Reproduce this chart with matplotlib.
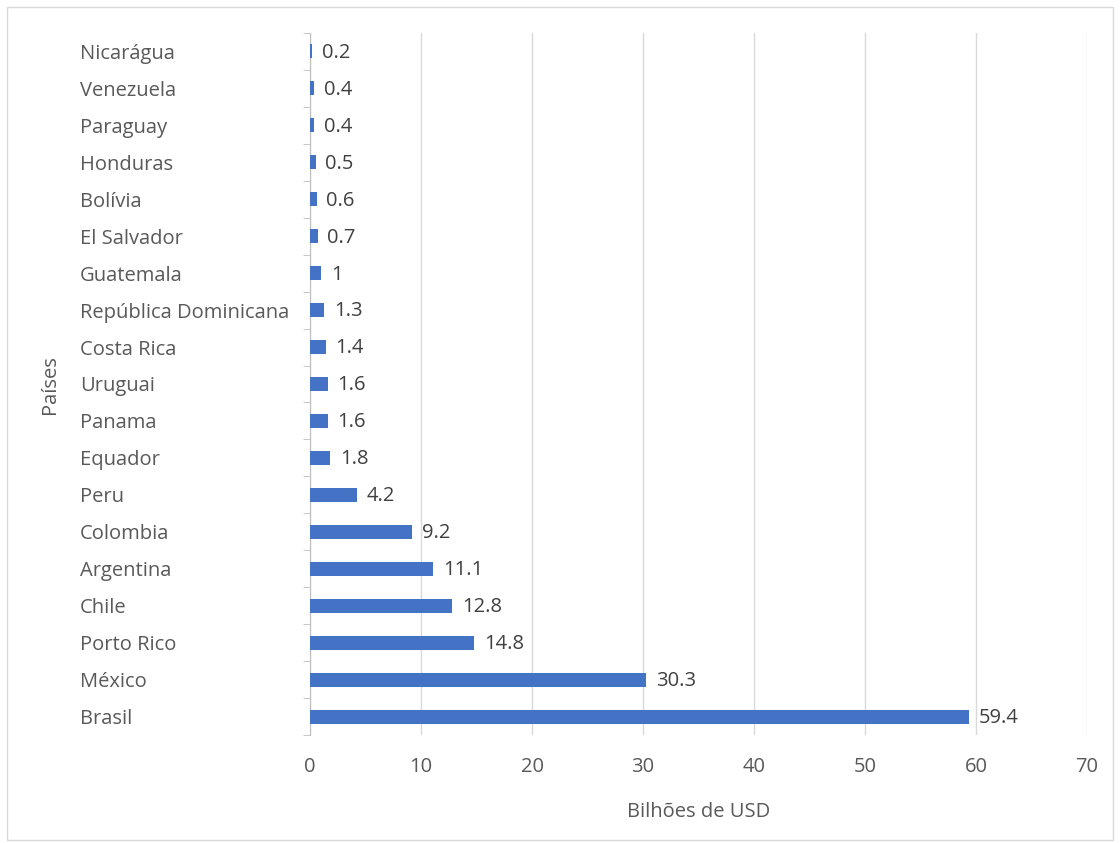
import matplotlib.pyplot as plt
import numpy as np
from matplotlib.patches import Rectangle

plt.rcParams['font.family'] = ['Open Sans', 'DejaVu Sans']

# from top to bottom as in the chart
countries = ["Nicarágua", "Venezuela", "Paraguay", "Honduras", "Bolívia",
             "El Salvador", "Guatemala", "República Dominicana", "Costa Rica",
             "Uruguai", "Panama", "Equador", "Peru", "Colombia", "Argentina",
             "Chile", "Porto Rico", "México", "Brasil"]
values = [0.2, 0.4, 0.4, 0.5, 0.6, 0.7, 1, 1.3, 1.4, 1.6, 1.6, 1.8,
          4.2, 9.2, 11.1, 12.8, 14.8, 30.3, 59.4]
labels = ["0.2", "0.4", "0.4", "0.5", "0.6", "0.7", "1", "1.3", "1.4", "1.6",
          "1.6", "1.8", "4.2", "9.2", "11.1", "12.8", "14.8", "30.3", "59.4"]

textColor = "#595959"
barColor = "#4472C4"
fs = 14.5

fig = plt.figure(figsize=(11.2, 8.43), dpi=100)
ax = fig.add_axes([310/1120, 1 - 735/843, (1087 - 310)/1120, (735 - 33)/843])

n = len(countries)
y = np.arange(n)[::-1]
ax.barh(y, values, height=0.38, color=barColor, zorder=3)

for i in range(n):
    ax.annotate(labels[i], (values[i], y[i]), xytext=(7, -1),
                textcoords="offset points", va="center", ha="left",
                fontsize=fs, color="#404040")

ax.set_xlim(0, 70)
ax.set_ylim(-0.5, n - 0.5)
ax.set_xticks(range(0, 71, 10))
ax.grid(axis="x", color="#D9D9D9", linewidth=1, zorder=0)

ax.set_yticks(y)
ax.set_yticklabels(countries, ha="left")
ax.set_yticks(np.arange(-0.5, n, 1), minor=True)
ax.tick_params(axis="y", which="major", length=0, pad=(310 - 80) * 0.72,
               labelsize=fs, labelcolor=textColor)
ax.tick_params(axis="y", which="minor", length=5, color="#BFBFBF")
ax.tick_params(axis="x", length=0, pad=16, labelsize=fs, labelcolor=textColor)

for side in ["top", "right", "bottom"]:
    ax.spines[side].set_visible(False)
ax.spines["left"].set_color("#BFBFBF")

ax.set_xlabel("Bilhões de USD", fontsize=fs, color=textColor, labelpad=18)
fig.text(50/1120, 1 - 385/843, "Países", rotation=90, ha="center",
         va="center", fontsize=fs, color=textColor)

fig.patches.append(Rectangle((7/1120, 3/843), 1106/1120, 833/843,
                             transform=fig.transFigure, fill=False,
                             edgecolor="#D9D9D9", linewidth=1))

fig.savefig("out.png", dpi=100)
